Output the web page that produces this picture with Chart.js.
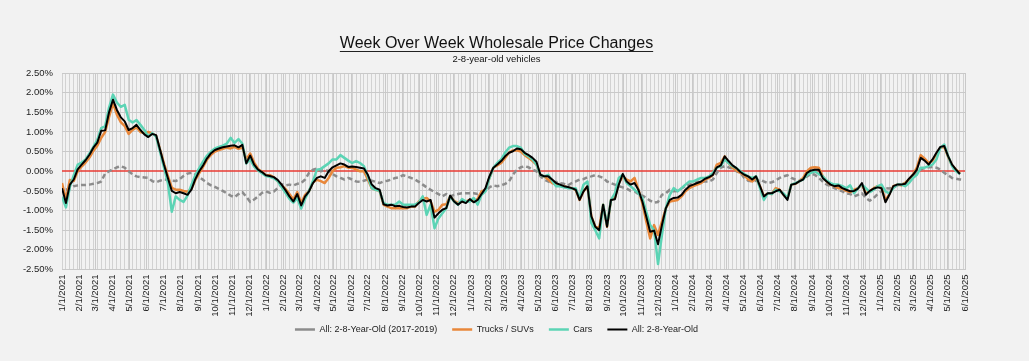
<!DOCTYPE html>
<html>
<head>
<meta charset="utf-8">
<script src="https://cdn.jsdelivr.net/npm/chart.js@4.4.1/dist/chart.umd.min.js"></script>
<style>
  html, body { margin: 0; padding: 0; background: #f2f2f2; }
  #wrap { width: 1029px; height: 361px; position: relative; }
</style>
</head>
<body>
<div id="wrap"><canvas id="c" width="1029" height="361"></canvas></div>
<script>
// ---------- DATA ----------
const firstWeek = '2021-01-01';           // first weekly observation
const weekStepDays = 7;

const tickLabels = [
  '1/1/2021','2/1/2021','3/1/2021','4/1/2021','5/1/2021','6/1/2021','7/1/2021','8/1/2021','9/1/2021','10/1/2021','11/1/2021','12/1/2021',
  '1/1/2022','2/1/2022','3/1/2022','4/1/2022','5/1/2022','6/1/2022','7/1/2022','8/1/2022','9/1/2022','10/1/2022','11/1/2022','12/1/2022',
  '1/1/2023','2/1/2023','3/1/2023','4/1/2023','5/1/2023','6/1/2023','7/1/2023','8/1/2023','9/1/2023','10/1/2023','11/1/2023','12/1/2023',
  '1/1/2024','2/1/2024','3/1/2024','4/1/2024','5/1/2024','6/1/2024','7/1/2024','8/1/2024','9/1/2024','10/1/2024','11/1/2024','12/1/2024',
  '1/1/2025','2/1/2025','3/1/2025','4/1/2025','5/1/2025','6/1/2025'
];

const yTickValues = [-2.5,-2.25,-2,-1.75,-1.5,-1.25,-1,-0.75,-0.5,-0.25,0,0.25,0.5,0.75,1,1.25,1.5,1.75,2,2.25,2.5];

const allBaseline = [ // All: 2-8-Year-Old (2017-2019)
  null,-0.47,-0.44,-0.38,-0.36,-0.35,-0.35,-0.34,-0.32,-0.30,
  -0.26,-0.06,0.00,0.05,0.10,0.13,0.09,0.00,-0.08,-0.13,
  -0.15,-0.16,-0.17,-0.25,-0.28,-0.24,-0.21,-0.22,-0.24,-0.25,
  -0.20,-0.12,-0.06,-0.04,-0.08,-0.15,-0.22,-0.30,-0.36,-0.40,
  -0.45,-0.50,-0.56,-0.62,-0.66,-0.58,-0.53,-0.65,-0.78,-0.72,
  -0.64,-0.55,-0.51,-0.55,-0.52,-0.43,-0.33,-0.36,-0.34,-0.36,
  -0.32,-0.30,-0.21,-0.04,0.04,0.07,0.00,0.04,0.00,-0.07,
  -0.13,-0.17,-0.21,-0.17,-0.21,-0.26,-0.27,-0.24,-0.21,-0.24,
  -0.27,-0.30,-0.26,-0.24,-0.21,-0.17,-0.15,-0.10,-0.13,-0.17,
  -0.21,-0.27,-0.34,-0.41,-0.47,-0.53,-0.58,-0.64,-0.58,-0.64,
  -0.60,-0.58,-0.56,-0.56,-0.56,-0.56,-0.58,-0.53,-0.50,-0.41,
  -0.36,-0.38,-0.36,-0.32,-0.26,-0.09,0.04,0.10,0.13,0.10,
  0.04,0.00,-0.13,-0.21,-0.26,-0.30,-0.27,-0.30,-0.32,-0.36,
  -0.30,-0.26,-0.21,-0.20,-0.15,-0.13,-0.10,-0.13,-0.17,-0.26,
  -0.30,-0.34,-0.38,-0.41,-0.44,-0.50,-0.51,-0.58,-0.62,-0.68,
  -0.75,-0.80,-0.78,-0.60,-0.56,-0.47,-0.51,-0.50,-0.44,-0.38,
  -0.34,-0.30,-0.27,-0.26,-0.26,-0.26,-0.21,-0.04,0.09,0.13,
  0.10,0.06,0.00,-0.04,-0.17,-0.24,-0.26,-0.24,-0.21,-0.26,
  -0.30,-0.28,-0.24,-0.17,-0.13,-0.10,-0.17,-0.21,-0.24,-0.19,
  -0.13,-0.07,-0.09,-0.17,-0.26,-0.34,-0.38,-0.43,-0.47,-0.51,
  -0.56,-0.58,-0.64,-0.60,-0.56,-0.68,-0.75,-0.68,-0.58,-0.51,
  -0.43,-0.44,-0.41,-0.36,-0.34,-0.30,-0.26,-0.17,-0.04,0.04,
  0.09,0.10,0.11,0.09,0.04,-0.04,-0.10,-0.17,-0.19,-0.21,
  -0.22
];

const trucks = [ // Trucks / SUVs
  -0.30,-0.72,-0.22,-0.25,0.00,0.12,0.22,0.35,0.52,0.65,
  0.85,1.00,1.38,1.74,1.44,1.25,1.15,0.95,1.05,1.12,
  1.00,0.97,1.00,0.96,0.90,0.55,0.20,-0.12,-0.42,-0.47,
  -0.47,-0.50,-0.52,-0.45,-0.22,-0.05,0.12,0.30,0.42,0.50,
  0.54,0.57,0.60,0.58,0.62,0.57,0.60,0.30,0.45,0.22,
  0.06,-0.02,-0.10,-0.10,-0.15,-0.25,-0.36,-0.45,-0.58,-0.72,
  -0.53,-0.80,-0.60,-0.50,-0.28,-0.22,-0.25,-0.30,-0.17,0.00,
  0.09,0.10,0.13,0.09,0.09,0.04,0.00,0.00,-0.21,-0.43,
  -0.47,-0.50,-0.85,-0.90,-0.94,-0.94,-0.94,-0.94,-0.94,-0.90,
  -0.90,-0.77,-0.70,-0.68,-0.77,-1.03,-0.98,-0.85,-0.84,-0.64,
  -0.75,-0.81,-0.77,-0.77,-0.73,-0.77,-0.70,-0.51,-0.47,-0.17,
  0.09,0.15,0.21,0.34,0.47,0.53,0.53,0.50,0.41,0.34,
  0.26,0.17,-0.09,-0.13,-0.21,-0.30,-0.34,-0.37,-0.38,-0.41,
  -0.43,-0.47,-0.73,-0.51,-0.38,-1.15,-1.41,-1.45,-0.85,-1.41,
  -0.73,-0.68,-0.30,-0.13,-0.21,-0.26,-0.17,-0.47,-0.81,-1.28,
  -1.71,-1.37,-1.62,-1.28,-0.94,-0.77,-0.75,-0.73,-0.64,-0.51,
  -0.43,-0.38,-0.34,-0.30,-0.21,-0.17,-0.09,0.17,0.21,0.38,
  0.21,0.09,0.02,-0.04,-0.10,-0.21,-0.26,-0.17,-0.38,-0.64,
  -0.56,-0.58,-0.43,-0.47,-0.60,-0.68,-0.34,-0.32,-0.26,-0.17,
  0.00,0.09,0.10,0.09,-0.13,-0.26,-0.34,-0.38,-0.43,-0.44,
  -0.50,-0.53,-0.47,-0.43,-0.34,-0.56,-0.51,-0.43,-0.38,-0.41,
  -0.75,-0.58,-0.38,-0.34,-0.36,-0.30,-0.21,-0.09,0.09,0.41,
  0.32,0.21,0.27,0.44,0.60,0.62,0.36,0.15,0.04,-0.05
];

const cars = [ // Cars
  -0.65,-0.92,-0.40,-0.10,0.17,0.22,0.30,0.45,0.62,0.80,
  1.10,1.15,1.62,1.95,1.75,1.64,1.69,1.31,1.24,1.30,
  1.18,1.05,0.88,0.97,0.88,0.50,0.10,-0.30,-1.03,-0.64,
  -0.73,-0.78,-0.62,-0.35,-0.10,0.08,0.25,0.40,0.50,0.58,
  0.62,0.65,0.70,0.85,0.72,0.82,0.70,0.20,0.30,0.12,
  0.02,-0.05,-0.12,-0.14,-0.18,-0.25,-0.40,-0.55,-0.70,-0.80,
  -0.68,-0.95,-0.70,-0.50,-0.25,0.04,0.06,0.13,0.20,0.30,
  0.30,0.41,0.34,0.27,0.21,0.26,0.21,0.13,-0.13,-0.43,
  -0.47,-0.50,-0.81,-0.85,-0.85,-0.85,-0.77,-0.85,-0.85,-0.85,
  -0.85,-0.80,-0.64,-1.11,-0.85,-1.45,-1.20,-1.07,-0.94,-0.64,
  -0.77,-0.85,-0.71,-0.77,-0.77,-0.68,-0.85,-0.60,-0.51,-0.17,
  0.09,0.21,0.30,0.47,0.60,0.64,0.64,0.60,0.44,0.38,
  0.30,0.17,-0.09,-0.13,-0.09,-0.24,-0.38,-0.38,-0.41,-0.43,
  -0.44,-0.43,-0.68,-0.34,-0.26,-1.32,-1.50,-1.71,-0.85,-1.37,
  -0.73,-0.56,-0.17,-0.09,-0.30,-0.38,-0.47,-0.56,-0.68,-1.03,
  -1.37,-1.50,-2.36,-1.62,-0.94,-0.60,-0.43,-0.51,-0.43,-0.34,
  -0.26,-0.26,-0.21,-0.17,-0.17,-0.13,-0.04,0.09,0.13,0.30,
  0.21,0.13,0.08,0.00,-0.07,-0.13,-0.17,-0.13,-0.43,-0.73,
  -0.56,-0.58,-0.47,-0.51,-0.56,-0.68,-0.34,-0.30,-0.26,-0.21,
  -0.09,-0.04,0.00,-0.07,-0.13,-0.24,-0.30,-0.34,-0.34,-0.38,
  -0.43,-0.36,-0.56,-0.43,-0.34,-0.43,-0.53,-0.47,-0.38,-0.34,
  -0.51,-0.56,-0.43,-0.34,-0.34,-0.38,-0.30,-0.17,-0.09,0.09,
  0.09,0.13,0.17,0.30,0.60,0.68,0.38,0.13,0.00,-0.07
];

const allVehicles = [ // All: 2-8-Year-Old
  -0.43,-0.81,-0.34,-0.21,0.05,0.17,0.28,0.42,0.60,0.73,
  1.03,1.04,1.50,1.82,1.56,1.37,1.27,1.05,1.10,1.18,
  1.05,0.94,0.87,0.95,0.92,0.55,0.17,-0.17,-0.50,-0.56,
  -0.53,-0.56,-0.60,-0.47,-0.20,0.00,0.15,0.33,0.46,0.54,
  0.58,0.61,0.63,0.65,0.66,0.61,0.67,0.20,0.40,0.17,
  0.04,-0.02,-0.10,-0.12,-0.15,-0.22,-0.34,-0.48,-0.64,-0.77,
  -0.58,-0.87,-0.64,-0.51,-0.30,-0.17,-0.13,-0.17,0.00,0.10,
  0.15,0.20,0.17,0.11,0.12,0.11,0.09,0.07,-0.09,-0.34,
  -0.43,-0.47,-0.84,-0.87,-0.85,-0.89,-0.88,-0.91,-0.92,-0.90,
  -0.90,-0.81,-0.73,-0.77,-0.73,-1.18,-1.07,-0.98,-0.94,-0.62,
  -0.77,-0.85,-0.77,-0.81,-0.71,-0.79,-0.73,-0.58,-0.43,-0.13,
  0.09,0.17,0.26,0.38,0.47,0.51,0.58,0.56,0.47,0.41,
  0.34,0.24,-0.09,-0.13,-0.13,-0.21,-0.30,-0.34,-0.38,-0.40,
  -0.43,-0.47,-0.73,-0.51,-0.38,-1.15,-1.41,-1.50,-0.85,-1.41,
  -0.73,-0.71,-0.34,-0.07,-0.26,-0.34,-0.30,-0.47,-0.77,-1.15,
  -1.54,-1.51,-1.86,-1.37,-0.94,-0.73,-0.68,-0.67,-0.60,-0.47,
  -0.38,-0.34,-0.30,-0.26,-0.19,-0.15,-0.09,0.10,0.15,0.38,
  0.26,0.15,0.08,-0.02,-0.09,-0.13,-0.21,-0.13,-0.38,-0.64,
  -0.56,-0.56,-0.51,-0.47,-0.60,-0.73,-0.34,-0.32,-0.26,-0.21,
  -0.04,0.02,0.04,0.04,-0.17,-0.26,-0.34,-0.38,-0.36,-0.43,
  -0.47,-0.51,-0.50,-0.44,-0.30,-0.60,-0.50,-0.44,-0.41,-0.43,
  -0.79,-0.60,-0.38,-0.34,-0.34,-0.32,-0.19,-0.09,0.04,0.34,
  0.27,0.17,0.30,0.47,0.62,0.64,0.38,0.17,0.04,-0.07
];

// ---------- helpers ----------
const DAY = 86400000;
const origin = Date.UTC(2021, 0, 1);
function parseMDY(s) { const [m, d, y] = s.split('/').map(Number); return (Date.UTC(y, m - 1, d) - origin) / DAY; }
const [fy, fm, fd] = firstWeek.split('-').map(Number);
const firstDay = (Date.UTC(fy, fm - 1, fd) - origin) / DAY;
const tickDays = tickLabels.map(parseMDY);
const xMin = tickDays[0], xMax = tickDays[tickDays.length - 1];
const toPoints = arr => arr.map((v, i) => ({ x: firstDay + i * weekStepDays, y: v }));
const weekDays = [];
for (let d = firstDay; d <= xMax; d += weekStepDays) weekDays.push(d);

const FONT = '"Liberation Sans", Arial, sans-serif';
const TITLE = 'Week Over Week Wholesale Price Changes';

const decorPlugin = {
  id: 'decor',
  beforeDatasetsDraw(chart) {
    // red zero reference line
    const y = chart.scales.y, area = chart.chartArea, ctx = chart.ctx;
    const py = Math.round(y.getPixelForValue(0));
    ctx.save();
    ctx.strokeStyle = '#e83a32';
    ctx.lineWidth = 1.5;
    ctx.beginPath();
    ctx.moveTo(area.left, py);
    ctx.lineTo(area.right, py);
    ctx.stroke();
    ctx.restore();
  },
  afterDraw(chart) {
    // underline beneath the title
    const tb = chart.titleBlock;
    if (!tb) return;
    const ctx = chart.ctx;
    ctx.save();
    ctx.font = '16px ' + FONT;
    const w = ctx.measureText(TITLE).width;
    const cx = (tb.left + tb.right) / 2;
    const cy = tb.top + 9 + 9.6;
    ctx.strokeStyle = '#222';
    ctx.lineWidth = 1;
    ctx.beginPath();
    ctx.moveTo(cx - w / 2, Math.round(cy + 7.5) + 0.5);
    ctx.lineTo(cx + w / 2, Math.round(cy + 7.5) + 0.5);
    ctx.stroke();
    ctx.restore();
  }
};

new Chart(document.getElementById('c'), {
  type: 'line',
  data: {
    datasets: [
      { label: 'All: 2-8-Year-Old (2017-2019)', data: toPoints(allBaseline), borderColor: '#8c8c8c', backgroundColor: '#8c8c8c',
        borderWidth: 2.5, borderDash: [5, 3], order: 3 },
      { label: 'Trucks / SUVs', data: toPoints(trucks), borderColor: '#e8873a', backgroundColor: '#e8873a', borderWidth: 2.5, order: 2 },
      { label: 'Cars', data: toPoints(cars), borderColor: '#5cd4b5', backgroundColor: '#5cd4b5', borderWidth: 2.5, order: 1 },
      { label: 'All: 2-8-Year-Old', data: toPoints(allVehicles), borderColor: '#000000', backgroundColor: '#000000', borderWidth: 2, order: 0 }
    ]
  },
  options: {
    responsive: false,
    animation: false,
    events: [],
    elements: { point: { radius: 0 }, line: { tension: 0, borderCapStyle: 'butt', borderJoinStyle: 'round' } },
    layout: { padding: { left: 14, right: 50, top: 25, bottom: 17 } },
    plugins: {
      title: { display: true, text: TITLE, color: '#111', font: { family: FONT, size: 16, weight: 'normal' }, padding: { top: 9, bottom: 0 } },
      subtitle: { display: true, text: '2-8-year-old vehicles', color: '#111', font: { family: FONT, size: 9.5, weight: 'normal' }, padding: { top: 0, bottom: 8.4 } },
      legend: {
        position: 'bottom',
        labels: {
          usePointStyle: true, pointStyle: 'line', pointStyleWidth: 20,
          color: '#222', font: { family: FONT, size: 9 }, padding: 15,
          sort: (a, b) => a.datasetIndex - b.datasetIndex
        }
      },
      tooltip: { enabled: false }
    },
    scales: {
      x: {
        type: 'linear', position: 'bottom', min: xMin, max: xMax, weight: 1,
        afterBuildTicks: s => { s.ticks = tickDays.map(v => ({ value: v })); },
        ticks: { autoSkip: false, maxRotation: 90, minRotation: 90, padding: 5, color: '#222',
          font: { family: FONT, size: 9.5 }, callback: (v, i) => tickLabels[i] },
        grid: { color: '#c9c9c9', lineWidth: 1, drawTicks: false },
        border: { color: '#c9c9c9' },
        afterFit: s => { s.height = 40.5; s._computeLabelArea = () => undefined; }
      },
      xw: {
        type: 'linear', position: 'bottom', min: xMin, max: xMax, weight: 0,
        afterBuildTicks: s => { s.ticks = weekDays.map(v => ({ value: v })); },
        ticks: { display: false },
        grid: { color: '#d2d2d2', lineWidth: 1, drawTicks: false },
        border: { display: false },
        afterFit: s => { s.height = 0; }
      },
      y: {
        position: 'left', min: -2.5, max: 2.5,
        afterBuildTicks: s => { s.ticks = yTickValues.map(v => ({ value: v })); },
        ticks: { padding: 9, color: '#222', font: { family: FONT, size: 9.5 },
          callback: v => Number(v).toFixed(2) + '%' },
        grid: { drawTicks: false, lineWidth: 1,
          color: c => (c.tick && c.tick.value === 0) ? 'rgba(0,0,0,0)' : '#c9c9c9' },
        border: { display: false },
        afterFit: s => { s.width = 48; }
      },
      yr: {
        position: 'right', display: true, min: 0, max: 1,
        ticks: { display: false }, grid: { display: false }, border: { display: false },
        afterFit: s => { s.width = 14; }
      }
    }
  },
  plugins: [decorPlugin]
});
</script>
</body>
</html>
